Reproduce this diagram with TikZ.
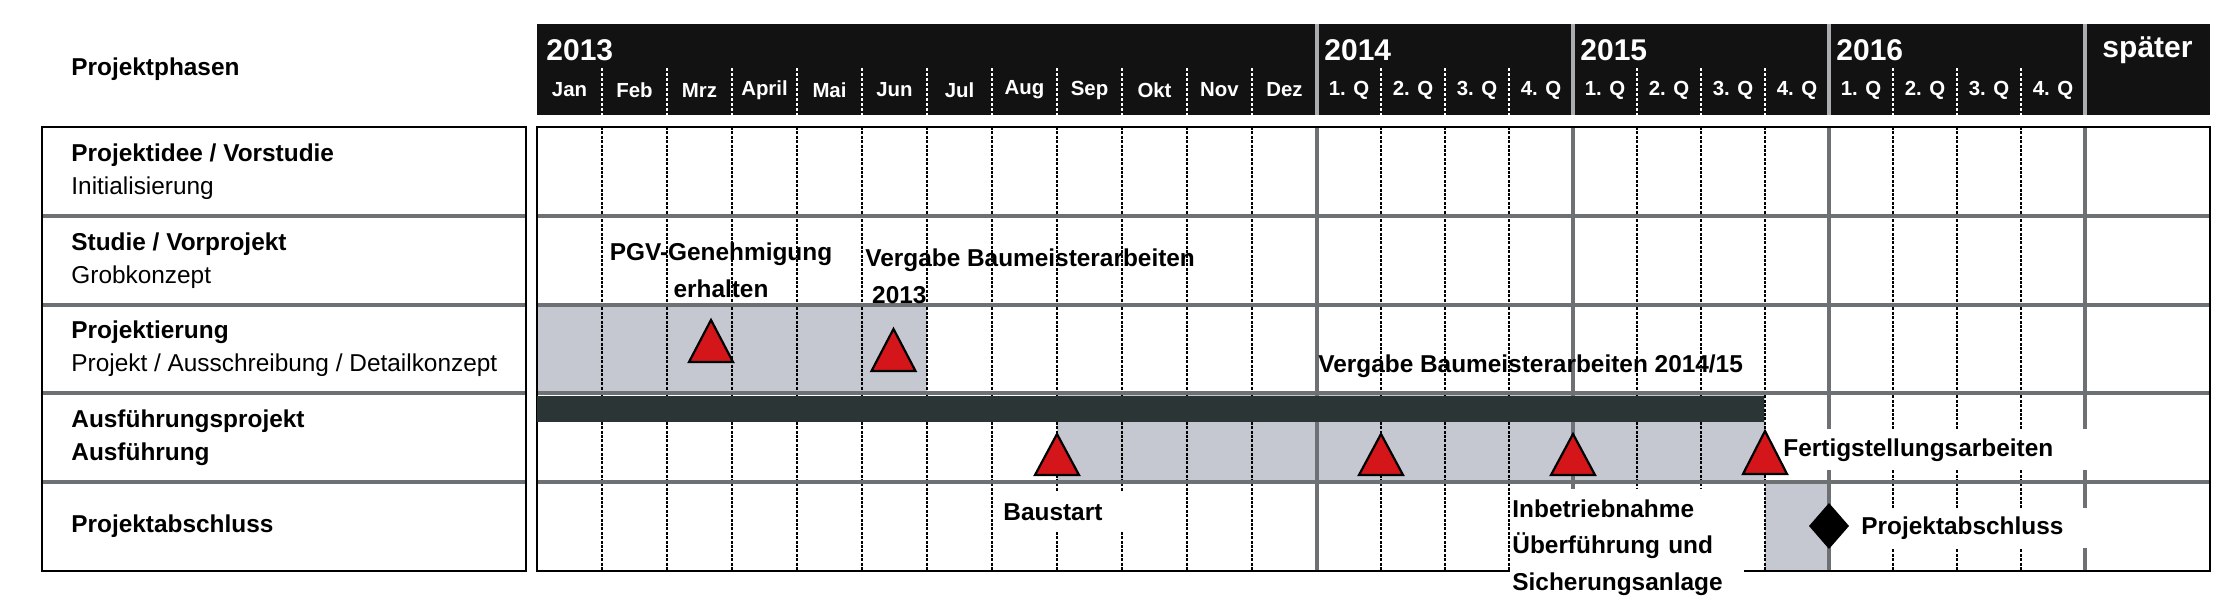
\documentclass[tikz,border=0pt]{standalone}
\usepackage{fontspec}
\setmainfont{Liberation Sans}
\usepackage{tikz}
\definecolor{hdrblack}{HTML}{121212}
\definecolor{phasegray}{HTML}{C5C8D0}
\definecolor{bardark}{HTML}{2C3535}
\definecolor{msred}{HTML}{D4161B}
\definecolor{linegray}{HTML}{6E7173}
\definecolor{sepgray}{HTML}{A9ADB0}

\begin{document}
\begin{tikzpicture}[x={0.5pt},y={-0.5pt},
  phasetext/.style={anchor=west,align=left,inner sep=0pt,font=\fontsize{12.2}{16.5}\selectfont},
  month/.style={text=white,inner sep=0pt,font=\bfseries\fontsize{10.2}{12}\selectfont},
  year/.style={text=white,inner sep=0pt,font=\bfseries\fontsize{15}{18}\selectfont},
  tag/.style={inner sep=0pt,align=left,font=\bfseries\fontsize{12.2}{18.3}\selectfont},
  tagbox/.style={tag,fill=white,anchor=north west},
  cell/.style={line width=1pt,dash pattern=on 1.5pt off 0.7pt},
  yearline/.style={draw=linegray,line width=2.2pt},
  rowline/.style={draw=linegray,line width=2pt},
  gridframe/.style={line width=1.3pt},
  hdrtick/.style={draw=white,line width=0.8pt,dash pattern=on 1.5pt off 1pt},
  yearsep/.style={draw=sepgray,line width=2.2pt},
  milestone/.style={fill=msred,draw=black,line width=1.1pt}]
\useasboundingbox (0,0) rectangle (2229,615);
\node[phasetext,font=\bfseries\fontsize{12.2}{16.5}\selectfont] (title) at (71,69) {Projektphasen};
\fill[hdrblack] (537,24) rectangle (2210,115);
\draw[hdrtick] (602,68) -- (602,115);
\draw[hdrtick] (667,68) -- (667,115);
\draw[hdrtick] (732,68) -- (732,115);
\draw[hdrtick] (797,68) -- (797,115);
\draw[hdrtick] (862,68) -- (862,115);
\draw[hdrtick] (927,68) -- (927,115);
\draw[hdrtick] (992,68) -- (992,115);
\draw[hdrtick] (1057,68) -- (1057,115);
\draw[hdrtick] (1122,68) -- (1122,115);
\draw[hdrtick] (1187,68) -- (1187,115);
\draw[hdrtick] (1252,68) -- (1252,115);
\draw[hdrtick] (1381,68) -- (1381,115);
\draw[hdrtick] (1445,68) -- (1445,115);
\draw[hdrtick] (1509,68) -- (1509,115);
\draw[hdrtick] (1637,68) -- (1637,115);
\draw[hdrtick] (1701,68) -- (1701,115);
\draw[hdrtick] (1765,68) -- (1765,115);
\draw[hdrtick] (1893,68) -- (1893,115);
\draw[hdrtick] (1957,68) -- (1957,115);
\draw[hdrtick] (2021,68) -- (2021,115);
\draw[yearsep] (1317,24) -- (1317,115);
\draw[yearsep] (1573,24) -- (1573,115);
\draw[yearsep] (1829,24) -- (1829,115);
\draw[yearsep] (2085,24) -- (2085,115);
\node[year,anchor=west] (y2013) at (546,50) {2013};
\node[year,anchor=west] (y2014) at (1324,50) {2014};
\node[year,anchor=west] (y2015) at (1580,50) {2015};
\node[year,anchor=west] (y2016) at (1836,50) {2016};
\node[year] (later) at (2147.5,50) {später};
\node[month] (jan) at (569.5,90) {Jan};
\node[month] (feb) at (634.5,90) {Feb};
\node[month] (mrz) at (699.5,90) {Mrz};
\node[month] (apr) at (764.5,90) {April};
\node[month] (mai) at (829.5,90) {Mai};
\node[month] (jun) at (894.5,90) {Jun};
\node[month] (jul) at (959.5,90) {Jul};
\node[month] (aug) at (1024.5,90) {Aug};
\node[month] (sep) at (1089.5,90) {Sep};
\node[month] (okt) at (1154.5,90) {Okt};
\node[month] (nov) at (1219.5,90) {Nov};
\node[month] (dez) at (1284.5,90) {Dez};
\node[month] (qa1) at (1349,90) {1. Q};
\node[month] (qa2) at (1413,90) {2. Q};
\node[month] (qa3) at (1477,90) {3. Q};
\node[month] (qa4) at (1541,90) {4. Q};
\node[month] (qb1) at (1605,90) {1. Q};
\node[month] (qb2) at (1669,90) {2. Q};
\node[month] (qb3) at (1733,90) {3. Q};
\node[month] (qb4) at (1797,90) {4. Q};
\node[month] (qc1) at (1861,90) {1. Q};
\node[month] (qc2) at (1925,90) {2. Q};
\node[month] (qc3) at (1989,90) {3. Q};
\node[month] (qc4) at (2053,90) {4. Q};
\draw[rowline] (42,216) -- (526,216);
\draw[rowline] (42,305) -- (526,305);
\draw[rowline] (42,393) -- (526,393);
\draw[rowline] (42,482) -- (526,482);
\draw[gridframe] (42,127) rectangle (526,571);
\node[phasetext] (idee) at (71,171.5) {\textbf{Projektidee / Vorstudie}\\Initialisierung};
\node[phasetext] (studie) at (71,260.5) {\textbf{Studie / Vorprojekt}\\Grobkonzept};
\node[phasetext] (projektierung) at (71,349) {\textbf{Projektierung}\\Projekt / Ausschreibung / Detailkonzept};
\node[phasetext] (ausfuehrung) at (71,437.5) {\textbf{Ausführungsprojekt}\\\textbf{Ausführung}};
\node[phasetext] (abschluss) at (71,526.5) {\textbf{Projektabschluss}};
\fill[phasegray] (537,305) rectangle (927,393);
\fill[phasegray] (1057,393) rectangle (1765,482);
\fill[phasegray] (1765,482) rectangle (1829,571);
\draw[cell] (602,127) -- (602,571);
\draw[cell] (667,127) -- (667,571);
\draw[cell] (732,127) -- (732,571);
\draw[cell] (797,127) -- (797,571);
\draw[cell] (862,127) -- (862,571);
\draw[cell] (927,127) -- (927,571);
\draw[cell] (992,127) -- (992,571);
\draw[cell] (1057,127) -- (1057,571);
\draw[cell] (1122,127) -- (1122,571);
\draw[cell] (1187,127) -- (1187,571);
\draw[cell] (1252,127) -- (1252,571);
\draw[cell] (1381,127) -- (1381,571);
\draw[cell] (1445,127) -- (1445,571);
\draw[cell] (1509,127) -- (1509,571);
\draw[cell] (1637,127) -- (1637,571);
\draw[cell] (1701,127) -- (1701,571);
\draw[cell] (1765,127) -- (1765,571);
\draw[cell] (1893,127) -- (1893,571);
\draw[cell] (1957,127) -- (1957,571);
\draw[cell] (2021,127) -- (2021,571);
\draw[rowline] (537,216) -- (2210,216);
\draw[rowline] (537,305) -- (2210,305);
\draw[rowline] (537,393) -- (2210,393);
\draw[rowline] (537,482) -- (2210,482);
\draw[yearline] (1317,127) -- (1317,571);
\draw[yearline] (1573,127) -- (1573,571);
\draw[yearline] (1829,127) -- (1829,571);
\draw[yearline] (2085,127) -- (2085,571);
\draw[gridframe] (537,127) rectangle (2210,571);
\fill[bardark] (537,396) rectangle (1764,422);
\node[tag] (pgv) at (721,270) [align=center] {PGV-Genehmigung\\erhalten};
\node[tag,anchor=west] (vergabea) at (865,276) {Vergabe Baumeisterarbeiten\\\hspace*{3.4pt}2013};
\node[tag,anchor=west] (vergabeb) at (1318,366) {Vergabe Baumeisterarbeiten 2014/15};
\node[tagbox,text width=61pt,inner xsep=2.5pt,minimum height=19.5pt] (baustart) at (998,492) {Baustart};
\node[tagbox,text width=115pt,inner xsep=1pt,minimum height=58pt] (inbetrieb) at (1510,489) {Inbetriebnahme\\Überführung und\\Sicherungsanlage};
\node[tagbox,text width=155pt,inner xsep=1.5pt,minimum height=20.5pt] (fertig) at (1780,429) {Fertigstellungsarbeiten};
\node[tagbox,text width=112.5pt,inner xsep=5pt,minimum height=20pt] (ende) at (1851,508) {Projektabschluss};
\filldraw[milestone] (689,362) -- (711,320) -- (733,362) -- cycle;
\filldraw[milestone] (871.5,371) -- (893.5,329) -- (915.5,371) -- cycle;
\filldraw[milestone] (1035,475) -- (1057,434) -- (1079,475) -- cycle;
\filldraw[milestone] (1359,475) -- (1381,434) -- (1403,475) -- cycle;
\filldraw[milestone] (1551,475) -- (1573,434) -- (1595,475) -- cycle;
\filldraw[milestone] (1743,474) -- (1765,431) -- (1787,474) -- cycle;
\fill (1829,503) -- (1849,526) -- (1829,549) -- (1809,526) -- cycle;
\end{tikzpicture}
\end{document}
